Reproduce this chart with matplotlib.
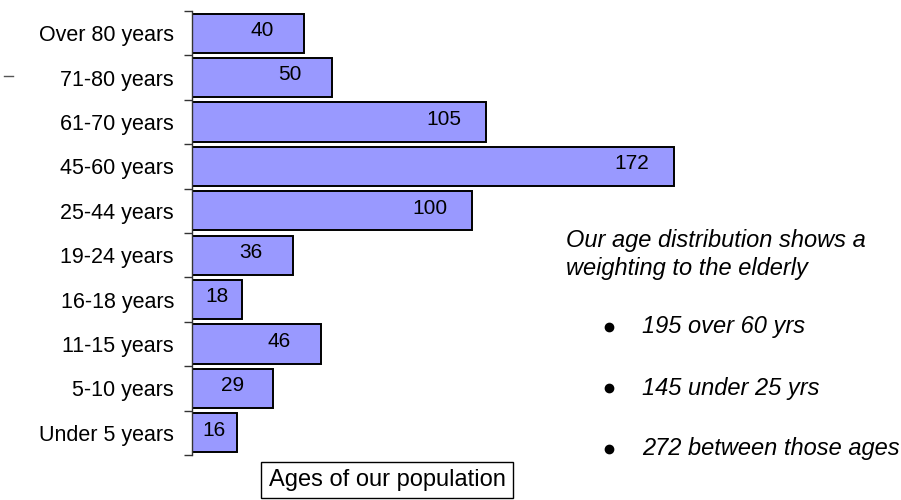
import numpy as np
import matplotlib.pyplot as plt
from matplotlib.lines import Line2D
from matplotlib.transforms import ScaledTranslation

# data, bottom to top
ages = ['Under 5 years', '5-10 years', '11-15 years', '16-18 years', '19-24 years',
        '25-44 years', '45-60 years', '61-70 years', '71-80 years', 'Over 80 years']
counts = [16, 29, 46, 18, 36, 100, 172, 105, 50, 40]

notes_head = ['Our age distribution shows a', 'weighting to the elderly']
notes = ['195 over 60 yrs', '145 under 25 yrs', '272 between those ages']

plt.rcParams['font.family'] = ['Liberation Sans', 'DejaVu Sans']

fig = plt.figure(figsize=(9.01, 5.0), dpi=100)
ax = fig.add_axes([192 / 901, 1 - 455 / 500, 700 / 901, 444 / 500])

y = np.arange(len(ages))
ax.barh(y, counts, height=0.88, color='#9999ff', edgecolor='black', linewidth=1.4)

# value labels inside the bars, nudged up a little
up = ScaledTranslation(0, 2 / 72, fig.dpi_scale_trans)
for yi, v in zip(y, counts):
    ax.text(max(v / 2, v - 15), yi, str(v), ha='center', va='center', fontsize=15,
            transform=ax.transData + up)

ax.set_xlim(0, 250)
ax.set_ylim(-0.5, len(ages) - 0.5)
ax.set_yticks(y)
ax.set_yticklabels(ages, fontsize=15.5)
for lab in ax.get_yticklabels():
    lab.set_transform(lab.get_transform() + up)
ax.set_yticks(np.arange(-0.5, len(ages)), minor=True)
ax.tick_params(axis='y', which='major', length=0, pad=13)
ax.tick_params(axis='y', which='minor', length=6, width=1, color='#333333')
ax.set_xticks([])
for s in ['top', 'right', 'bottom']:
    ax.spines[s].set_visible(False)
ax.spines['left'].set_color('#333333')
ax.spines['left'].set_linewidth(1)

# commentary on the right
fig.text(566 / 901, 1 - 240 / 500, notes_head[0], fontsize=17, style='italic', va='center')
fig.text(566 / 901, 1 - 269 / 500, notes_head[1], fontsize=17, style='italic', va='center')
for i, t in enumerate(notes):
    yy = 1 - (327 + i * 61) / 500
    fig.add_artist(Line2D([609 / 901], [yy], marker='o', markersize=6, color='black', linestyle='none'))
    fig.text(642 / 901, yy, t, fontsize=17, style='italic', va='center')

# chart title box
fig.text(387 / 901, 1 - 480 / 500, 'Ages of our population', fontsize=17, ha='center', va='center',
         bbox=dict(boxstyle='square,pad=0.3', facecolor='white', edgecolor='black', linewidth=1))

# stray dash on the left
fig.add_artist(Line2D([4 / 901, 13 / 901], [1 - 76 / 500, 1 - 76 / 500], color='#555555', linewidth=1))

fig.savefig('out.png', dpi=100)
